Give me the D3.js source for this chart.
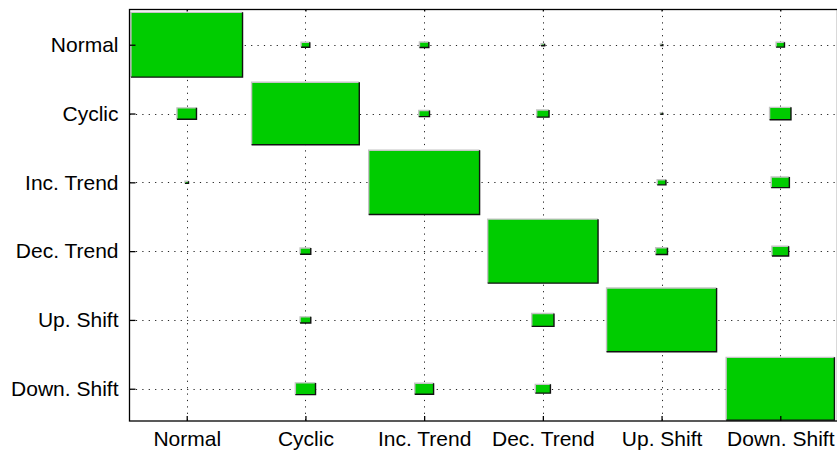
<!DOCTYPE html>
<html>
<head>
<meta charset="utf-8">
<script src="https://cdn.jsdelivr.net/npm/d3@7"></script>
<style>
  html, body { margin: 0; padding: 0; background: #fff; }
  svg { display: block; }
  .tick text { font-family: "Liberation Sans", Arial, Helvetica, sans-serif; font-size: 21px; fill: #000; }
</style>
</head>
<body>
<svg id="chart" width="837" height="451"></svg>
<script>
// Class names (rows = actual pattern, columns = recognised pattern)
const classes = ["Normal", "Cyclic", "Inc. Trend", "Dec. Trend", "Up. Shift", "Down. Shift"];

// Recognition rates in percent, one array per actual class
const normalRow    = [98.0, 0.6, 0.7, 0.1, 0.05, 0.55];
const cyclicRow    = [3.0, 91.2, 0.9, 1.2, 0.05, 3.6];
const incTrendRow  = [0.1, 0, 96.7, 0, 0.6, 2.6];
const decTrendRow  = [0, 0.9, 0, 95.8, 1.1, 2.2];
const upShiftRow   = [0, 0.9, 0, 3.9, 95.2, 0];
const downShiftRow = [0, 3.2, 2.8, 1.8, 0, 92.2];

const rows = [normalRow, cyclicRow, incTrendRow, decTrendRow, upShiftRow, downShiftRow];

const svg = d3.select("#chart");

// Axis box
const boxLeft = 129.5, boxRight = 837.5, boxTop = 9.5, boxBottom = 421;

// Category positions are 1..6 on both axes
const x = d3.scaleLinear().domain([0.518, 6.482]).range([boxLeft, boxRight]);
const y = d3.scaleLinear().domain([0.488, 6.469]).range([boxTop, boxBottom]);

// Box side as a fraction of one cell: proportional to sqrt of the rate
const side = d3.scaleSqrt().domain([0, 100]).range([0, 0.95]);

const idx = d3.range(1, classes.length + 1);

// Dotted grid
const grid = svg.append("g")
  .attr("stroke", "#222")
  .attr("stroke-width", 1)
  .attr("stroke-dasharray", "1.2,5.2");
grid.selectAll("line.v").data(idx).join("line")
  .attr("class", "v")
  .attr("x1", d => Math.round(x(d)) + 0.5).attr("x2", d => Math.round(x(d)) + 0.5)
  .attr("y1", boxTop).attr("y2", boxBottom);
grid.selectAll("line.h").data(idx).join("line")
  .attr("class", "h")
  .attr("y1", d => Math.round(y(d)) + 0.5).attr("y2", d => Math.round(y(d)) + 0.5)
  .attr("x1", boxLeft).attr("x2", boxRight);

// Flatten the matrix into cells
const cells = [];
rows.forEach((r, i) => r.forEach((v, j) => {
  if (v > 0) cells.push({ row: i + 1, col: j + 1, value: v });
}));

const boxes = svg.append("g").selectAll("g").data(cells).join("g");

function bounds(d) {
  const s = side(d.value) / 2;
  return {
    x0: x(d.col - s), x1: x(d.col + s),
    y0: y(d.row - s), y1: y(d.row + s)
  };
}

boxes.append("rect")
  .attr("x", d => bounds(d).x0)
  .attr("y", d => bounds(d).y0)
  .attr("width", d => bounds(d).x1 - bounds(d).x0)
  .attr("height", d => bounds(d).y1 - bounds(d).y0)
  .attr("fill", "#00cc00");

// Light upper/left edge
boxes.append("path")
  .attr("d", d => {
    const b = bounds(d);
    return `M${b.x0},${b.y1}L${b.x0},${b.y0}L${b.x1},${b.y0}`;
  })
  .attr("fill", "none")
  .attr("stroke", "#c4c4c4")
  .attr("stroke-width", 1.4);

// Dark lower/right edge
boxes.append("path")
  .attr("d", d => {
    const b = bounds(d);
    return `M${b.x0},${b.y1}L${b.x1},${b.y1}L${b.x1},${b.y0}`;
  })
  .attr("fill", "none")
  .attr("stroke", "#111")
  .attr("stroke-width", 1.4);

// Axes
const fmt = d => classes[d - 1];

const yAxis = svg.append("g")
  .attr("transform", `translate(${boxLeft},0)`)
  .call(d3.axisLeft(y).tickValues(idx).tickFormat(fmt).tickSizeInner(-6).tickSizeOuter(0).tickPadding(11));

const xAxis = svg.append("g")
  .attr("transform", `translate(0,${boxBottom})`)
  .call(d3.axisBottom(x).tickValues(idx).tickFormat(fmt).tickSizeInner(-5).tickSizeOuter(0).tickPadding(10));

const xTop = svg.append("g")
  .attr("transform", `translate(0,${boxTop})`)
  .call(d3.axisTop(x).tickValues(idx).tickFormat("").tickSizeInner(-2).tickSizeOuter(0));

[yAxis, xAxis, xTop].forEach(g => {
  g.select(".domain").remove();
  g.selectAll(".tick line").attr("stroke", "#000").attr("stroke-width", 1.3);
});

// Axis frame
svg.append("rect")
  .attr("x", boxLeft).attr("y", boxTop)
  .attr("width", boxRight - boxLeft).attr("height", boxBottom - boxTop)
  .attr("fill", "none")
  .attr("stroke", "#000")
  .attr("stroke-width", 1.3);
</script>
</body>
</html>
